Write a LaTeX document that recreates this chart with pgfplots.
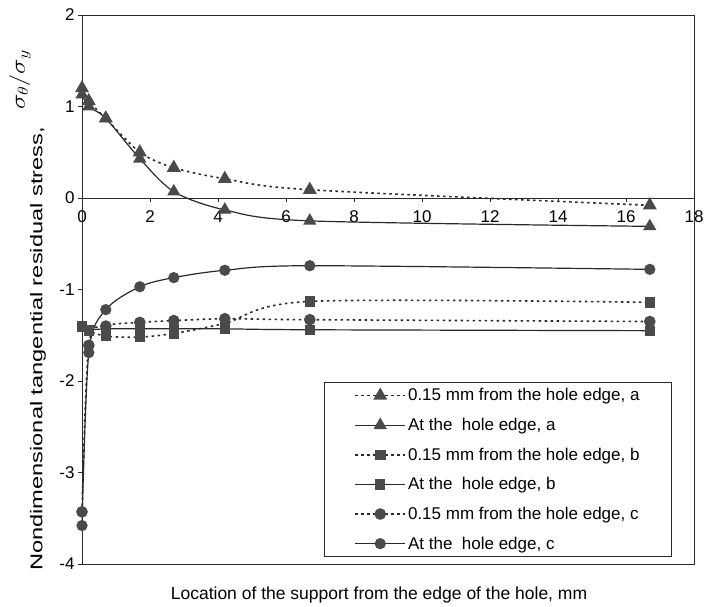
\documentclass[border=0pt]{standalone}
\usepackage{fontspec}
\setmainfont{Liberation Sans}
\usepackage{pgfplots}
\pgfplotsset{compat=1.18}
\definecolor{mk}{HTML}{4A4A4A}
\definecolor{ln}{HTML}{2A2A2A}
\begin{document}
\begin{tikzpicture}
\path[use as bounding box] (-82pt,-43pt) rectangle (622pt,564pt);
\begin{axis}[
  at={(0pt,0pt)}, anchor=south west,
  scale only axis, width=612pt, height=549pt,
  xmin=0, xmax=18, ymin=-4, ymax=2,
  axis x line=middle, axis y line=left,
  axis line style={-, line width=0.9pt, ln},
  xtick={0,2,...,18}, ytick={-4,-3,...,2},
  tick align=outside, major tick length=4pt,
  tick style={line width=0.8pt, ln},
  hide obscured x ticks=false, hide obscured y ticks=false,
  /pgf/number format/assume math mode=true,
  ticklabel style={font=\fontsize{17}{18}\selectfont},
  xticklabel style={yshift=-5pt},
  clip=false,
  legend style={at={(0.964,0.0128)}, anchor=south east, draw=ln, line width=0.8pt,
    font=\fontsize{17}{20}\selectfont, inner xsep=30pt, inner ysep=4pt, row sep=11.8pt},
  legend cell align=left,
  legend image code/.code={\draw[mark repeat=2,mark phase=2,#1] plot coordinates {(0pt,0pt) (25pt,0pt) (50pt,0pt)};},
  every axis plot/.append style={smooth, tension=0.5, color=ln},
  dots/.style={line width=1.6pt, dash pattern=on 2.5pt off 3.5pt},
  sol/.style={line width=1.2pt},
]
\draw[line width=0.9pt, ln] (rel axis cs:0,0) rectangle (rel axis cs:1,1);
% a: triangles
\addplot[dots, mark=triangle*, mark size=6.5pt, mark options={solid, fill=mk, draw=mk}] coordinates {
 (0,1.2) (0.2,1.06) (0.7,0.87) (1.7,0.50) (2.7,0.33) (4.2,0.21) (6.7,0.09) (16.7,-0.08)};
\addlegendentry{0.15 mm from the hole edge, a}
\addplot[sol, mark=triangle*, mark size=6.5pt, mark options={solid, fill=mk, draw=mk}] coordinates {
 (0,1.13) (0.2,1.0) (0.7,0.87) (1.7,0.43) (2.7,0.07) (4.2,-0.13) (6.7,-0.25) (16.7,-0.31)};
\addlegendentry{At the\ \ hole edge, a}
% b: squares
\addplot[dots, mark=square*, mark size=4.5pt, mark options={solid, fill=mk, draw=mk}] coordinates {
 (0,-1.40) (0.2,-1.45) (0.7,-1.51) (1.7,-1.52) (2.7,-1.48) (4.2,-1.37) (6.7,-1.13) (16.7,-1.14)};
\addlegendentry{0.15 mm from the hole edge, b}
\addplot[sol, mark=square*, mark size=4.5pt, mark options={solid, fill=mk, draw=mk}] coordinates {
 (0,-1.41) (0.2,-1.44) (0.7,-1.43) (1.7,-1.43) (2.7,-1.43) (4.2,-1.43) (6.7,-1.44) (16.7,-1.45)};
\addlegendentry{At the\ \ hole edge, b}
% c: circles
\addplot[dots, mark=*, mark size=5pt, mark options={solid, fill=mk, draw=mk}] coordinates {
 (0,-3.43) (0.2,-1.61) (0.7,-1.40) (1.7,-1.36) (2.7,-1.34) (4.2,-1.32) (6.7,-1.33) (16.7,-1.35)};
\addlegendentry{0.15 mm from the hole edge, c}
\addplot[sol, mark=*, mark size=5pt, mark options={solid, fill=mk, draw=mk}] coordinates {
 (0,-3.58) (0.2,-1.69) (0.7,-1.22) (1.7,-0.97) (2.7,-0.87) (4.2,-0.79) (6.7,-0.74) (16.7,-0.78)};
\addlegendentry{At the\ \ hole edge, c}
\end{axis}
\node[rotate=90] at (-44pt,215pt) {\fontsize{17}{20}\selectfont\scalebox{1.39}[1]{Nondimensional tangential residual stress,}};
\node[rotate=90] at (-62pt,484pt) {\fontsize{22}{24}\selectfont\scalebox{1.25}[1]{$\sigma_\theta/\sigma_y$}};
\node at (297pt,-31pt) {\fontsize{17.5}{20}\selectfont Location of the support from the edge of the hole, mm};
\end{tikzpicture}
\end{document}
